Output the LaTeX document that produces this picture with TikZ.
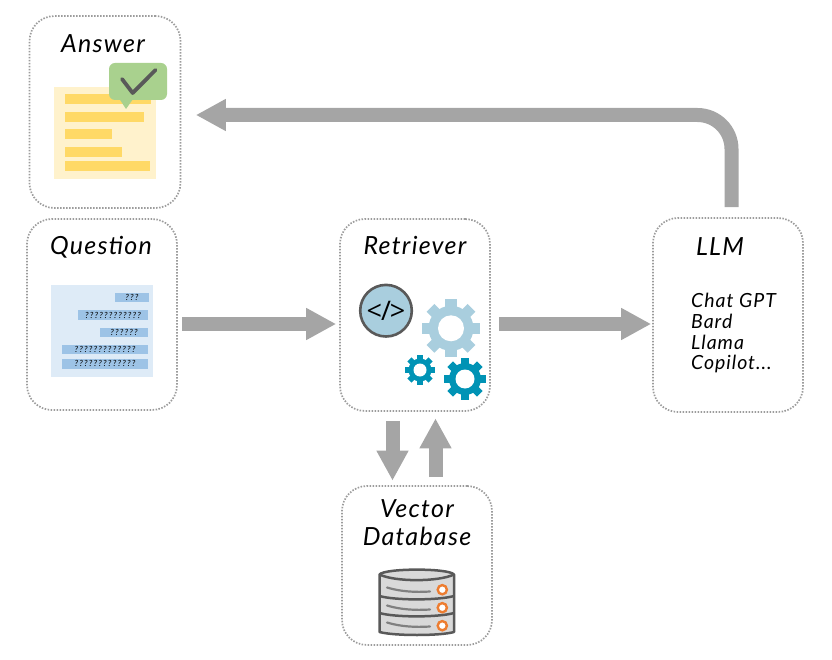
\documentclass[tikz,border=0pt]{standalone}
\usepackage{fontspec}
\setmainfont{Open Sans}
\newfontfamily\hand[LetterSpace=5]{Lato}[ItalicFont={Lato Italic}]
\newfontfamily\handwide[LetterSpace=14]{Lato}[ItalicFont={Lato Italic}]
\usetikzlibrary{arrows.meta}
\definecolor{boxline}{HTML}{9C9C9C}
\definecolor{flow}{HTML}{A5A5A5}
\definecolor{docyellow}{HTML}{FFF2CC}
\definecolor{baryellow}{HTML}{FFD966}
\definecolor{okgreen}{HTML}{A9D18E}
\definecolor{ink}{HTML}{595959}
\definecolor{docblue}{HTML}{DEEBF7}
\definecolor{barblue}{HTML}{9DC3E6}
\definecolor{gearpale}{HTML}{A9CEDE}
\definecolor{geardeep}{HTML}{0093B5}
\definecolor{dbgrey}{HTML}{D9D9D9}
\definecolor{dbring}{HTML}{ED7D31}
\tikzset{
  stagebox/.style={draw=boxline,line width=1.7pt,dash pattern=on 1.5pt off 1.5pt,rounded corners=25pt,inner sep=0pt,fill=white},
  flowline/.style={draw=flow,line width=14pt,-{Triangle[length=30pt,width=30pt]}},
  title/.style={font=\hand\itshape\fontsize{25}{27}\selectfont,inner sep=0pt,align=center},
  llmitem/.style={font=\hand\itshape\fontsize{19.5}{21}\selectfont,inner sep=0pt,anchor=west},
  querytext/.style={font=\handwide\itshape\fontsize{8.5}{9}\selectfont,inner sep=0pt},
  pics/gear/.style n args={4}{code={
    % root disc, eight teeth, then the hub hole
    \fill[#4] (0,0) circle (#2);
    \foreach \a in {0,45,...,315}
      \fill[#4,rotate=\a] (-#1*0.19,0) rectangle (#1*0.19,#1);
    \fill[white] (0,0) circle (#3);
  }}
}
\begin{document}
\begin{tikzpicture}[x=1pt,y=-1pt]
\useasboundingbox (0,0) rectangle (832,660);

% stage boxes
\node[stagebox,minimum width=151pt,minimum height=192pt] (answer) at (105,112) {};
\node[stagebox,minimum width=150pt,minimum height=191pt] (question) at (102,314.5) {};
\node[stagebox,minimum width=150pt,minimum height=192pt] (retriever) at (415,315) {};
\node[stagebox,minimum width=150pt,minimum height=194pt] (llm) at (728,315) {};
\node[stagebox,minimum width=150pt,minimum height=159pt] (vectordb) at (417,565.5) {};

% titles
\node[title] (answerT) at (103,44) {Answer};
\node[title] (questionT) at (101,247) {Question};
\node[title] (retrieverT) at (415,245) {Retriever};
\node[title] (llmT) at (720,247) {LLM};
\node[title] (vectorT) at (417,509) {Vector};
\node[title] (databaseT) at (417,536) {Database};

% models listed under LLM
\node[llmitem] (m1) at (691,300) {Chat GPT};
\node[llmitem] (m2) at (691,321) {Bard};
\node[llmitem] (m3) at (691,342) {Llama};
\node[llmitem] (m4) at (691,364) {Copilot...};

% connectors
\draw[flowline,shorten <=4.5pt,shorten >=3pt] ([yshift=-9.5pt]question.east) -- ([yshift=-9pt]retriever.west);
\draw[flowline,shorten <=8.5pt,shorten >=1pt] ([yshift=-9pt]retriever.east) -- ([yshift=-9pt]llm.west);
\draw[flowline,shorten <=9pt,shorten >=4.5pt] ([xshift=-22.5pt]retriever.south) -- ([xshift=-24.5pt]vectordb.north);
\draw[flowline,shorten <=8pt,shorten >=6.5pt] ([xshift=18.5pt]vectordb.north) -- ([xshift=20.5pt]retriever.south);
\coordinate (bend) at (731.5,115);
\draw[flowline,rounded corners=34pt,shorten <=10pt,shorten >=14.5pt] ([xshift=3.5pt]llm.north) -- (bend) -- ([yshift=-3pt]answer.east);

% answer sheet
\fill[docyellow] (53.5,87) rectangle (156,179);
\fill[baryellow] (65,94.5) rectangle (151,104.5);
\fill[baryellow] (65,112) rectangle (143.5,122);
\fill[baryellow] (65,129) rectangle (112,139);
\fill[baryellow] (65,147) rectangle (122,157);
\fill[baryellow] (65,161) rectangle (150,171);
\fill[okgreen,rounded corners=6pt] (109,63) rectangle (167,100);
\fill[okgreen] (119.5,99) -- (133,99) -- (126,109) -- cycle;
\draw[ink,line width=3.8pt,line cap=round,line join=round] (122,79) -- (132.7,93) -- (155.5,70);

% question sheet
\fill[docblue] (51,285) rectangle (152.7,377);
\fill[barblue] (115,292.7) rectangle (149,302);
\fill[barblue] (78,310) rectangle (148,319.7);
\fill[barblue] (100,327.5) rectangle (147.5,337);
\fill[barblue] (62,345) rectangle (147.5,354);
\fill[barblue] (62,359) rectangle (147.5,368.5);
\node[querytext] (q1) at (132,297.5) {???};
\node[querytext] (q2) at (113,315) {????????????};
\node[querytext] (q3) at (124,332.5) {??????};
\node[querytext] (q4) at (105,349.5) {?????????????};
\node[querytext] (q5) at (105,363.5) {?????????????};

% retriever icons
\filldraw[fill=gearpale,draw=ink,line width=2.6pt] (386,310.7) circle (25.8);
\node[inner sep=0pt,font=\fontsize{27}{29}\selectfont\addfontfeature{LetterSpace=-4}] (code) at (386,311) {</>};
\pic at (451,328.3) {gear={29}{22.5}{13}{gearpale}};
\pic at (420,370) {gear={15}{11.5}{6.5}{geardeep}};
\pic at (465,379) {gear={21}{16}{9.5}{geardeep}};

% database cylinder
\filldraw[fill=dbgrey,draw=ink,line width=2.5pt,line join=round]
  (379.5,574.5) .. controls (385,568) and (449,568) .. (454,574.5)
  -- (454,632) .. controls (440,636) and (394,636) .. (379.5,632) -- cycle;
\draw[ink,line width=2.5pt] (379.5,574.5) .. controls (395,582) and (438,582) .. (454,574.5);
\draw[ink,line width=2.5pt] (379.5,596) .. controls (395,600.5) and (438,600.5) .. (454,596);
\draw[ink,line width=2.5pt] (379.5,613) .. controls (395,617.5) and (438,617.5) .. (454,613);
\foreach \yy in {587.5,605.5,622.5}{
  \draw[gray,line width=2.2pt,line cap=round] (387,\yy) .. controls (400,\yy+4) and (415,\yy+5) .. (430,\yy+4);
}
\foreach \yy in {589.7,607.7,625.7}{
  \filldraw[fill=white,draw=dbring,line width=2.4pt] (442.3,\yy) circle (4.6);
}
\end{tikzpicture}
\end{document}
